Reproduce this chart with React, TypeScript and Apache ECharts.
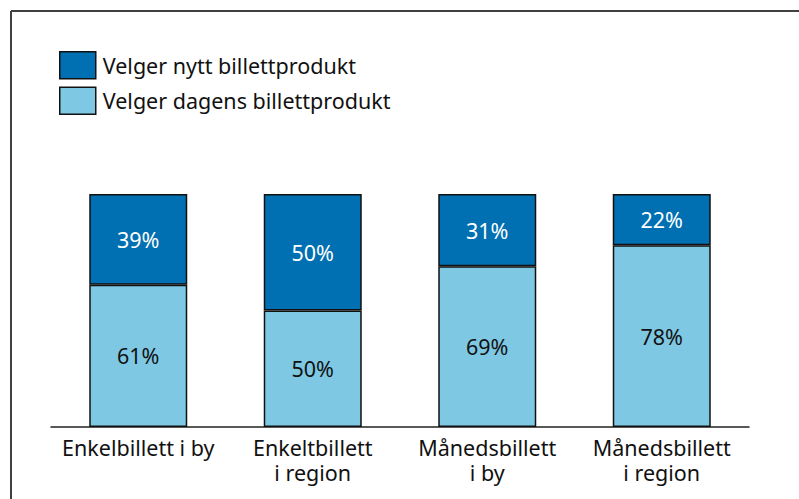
import React, { useEffect, useRef } from "react";
import * as echarts from "echarts";

const categories = ["Enkelbillett i by", "Enkeltbillett\ni region", "Månedsbillett\ni by", "Månedsbillett\ni region"];
const seriesNames = ["Velger nytt billettprodukt", "Velger dagens billettprodukt"];
const todaysProduct = [61, 50, 69, 78];
const newProduct = [39, 50, 31, 22];

const FONT = "'Noto Sans', 'Open Sans', sans-serif";
const FS = 21.5;

export default function App() {
  const ref = useRef<HTMLDivElement>(null);
  useEffect(() => {
    if (!ref.current) return;
    const chart = echarts.init(ref.current, undefined, { renderer: "svg" });
    chart.setOption({
      animation: false,
      textStyle: { fontFamily: FONT },
      grid: { left: 51, right: 50, top: 194, bottom: 72 },
      legend: {
        orient: "vertical",
        left: 59,
        top: 51,
        padding: 0,
        icon: "rect",
        itemWidth: 36,
        itemHeight: 27,
        itemGap: 7,
        data: seriesNames,
        textStyle: { fontSize: FS, color: "#111", fontFamily: FONT, padding: [0, 0, 0, 2] },
        itemStyle: { borderColor: "#111", borderWidth: 1.5 },
      },
      xAxis: {
        type: "category",
        data: categories,
        axisLine: { lineStyle: { color: "#222", width: 1.5 } },
        axisTick: { show: false },
        axisLabel: { interval: 0, hideOverlap: false, fontSize: FS, color: "#111", lineHeight: 25, margin: 8, fontFamily: FONT },
      },
      yAxis: { type: "value", min: 0, max: 100, show: false },
      series: [
        {
          name: seriesNames[1],
          type: "bar",
          stack: "total",
          barWidth: 98,
          data: todaysProduct,
          itemStyle: { color: "#7EC8E4", borderColor: "#111", borderWidth: 1.5 },
          label: { show: true, position: "inside", formatter: "{c}%", fontSize: FS, color: "#111", fontFamily: FONT },
        },
        {
          name: seriesNames[0],
          type: "bar",
          stack: "total",
          barWidth: 98,
          data: newProduct,
          itemStyle: { color: "#0070B2", borderColor: "#111", borderWidth: 1.5 },
          label: { show: true, position: "inside", formatter: "{c}%", fontSize: FS, color: "#fff", fontFamily: FONT },
        },
      ],
      graphic: [
        { type: "line", shape: { x1: 11, y1: 11, x2: 799, y2: 11 }, style: { stroke: "#404040", lineWidth: 2 } },
        { type: "line", shape: { x1: 11, y1: 11, x2: 11, y2: 499 }, style: { stroke: "#404040", lineWidth: 2 } },
      ],
    });
    return () => chart.dispose();
  }, []);
  return <div ref={ref} style={{ width: 799, height: 499, position: "absolute", left: 0, top: 0 }} />;
}
